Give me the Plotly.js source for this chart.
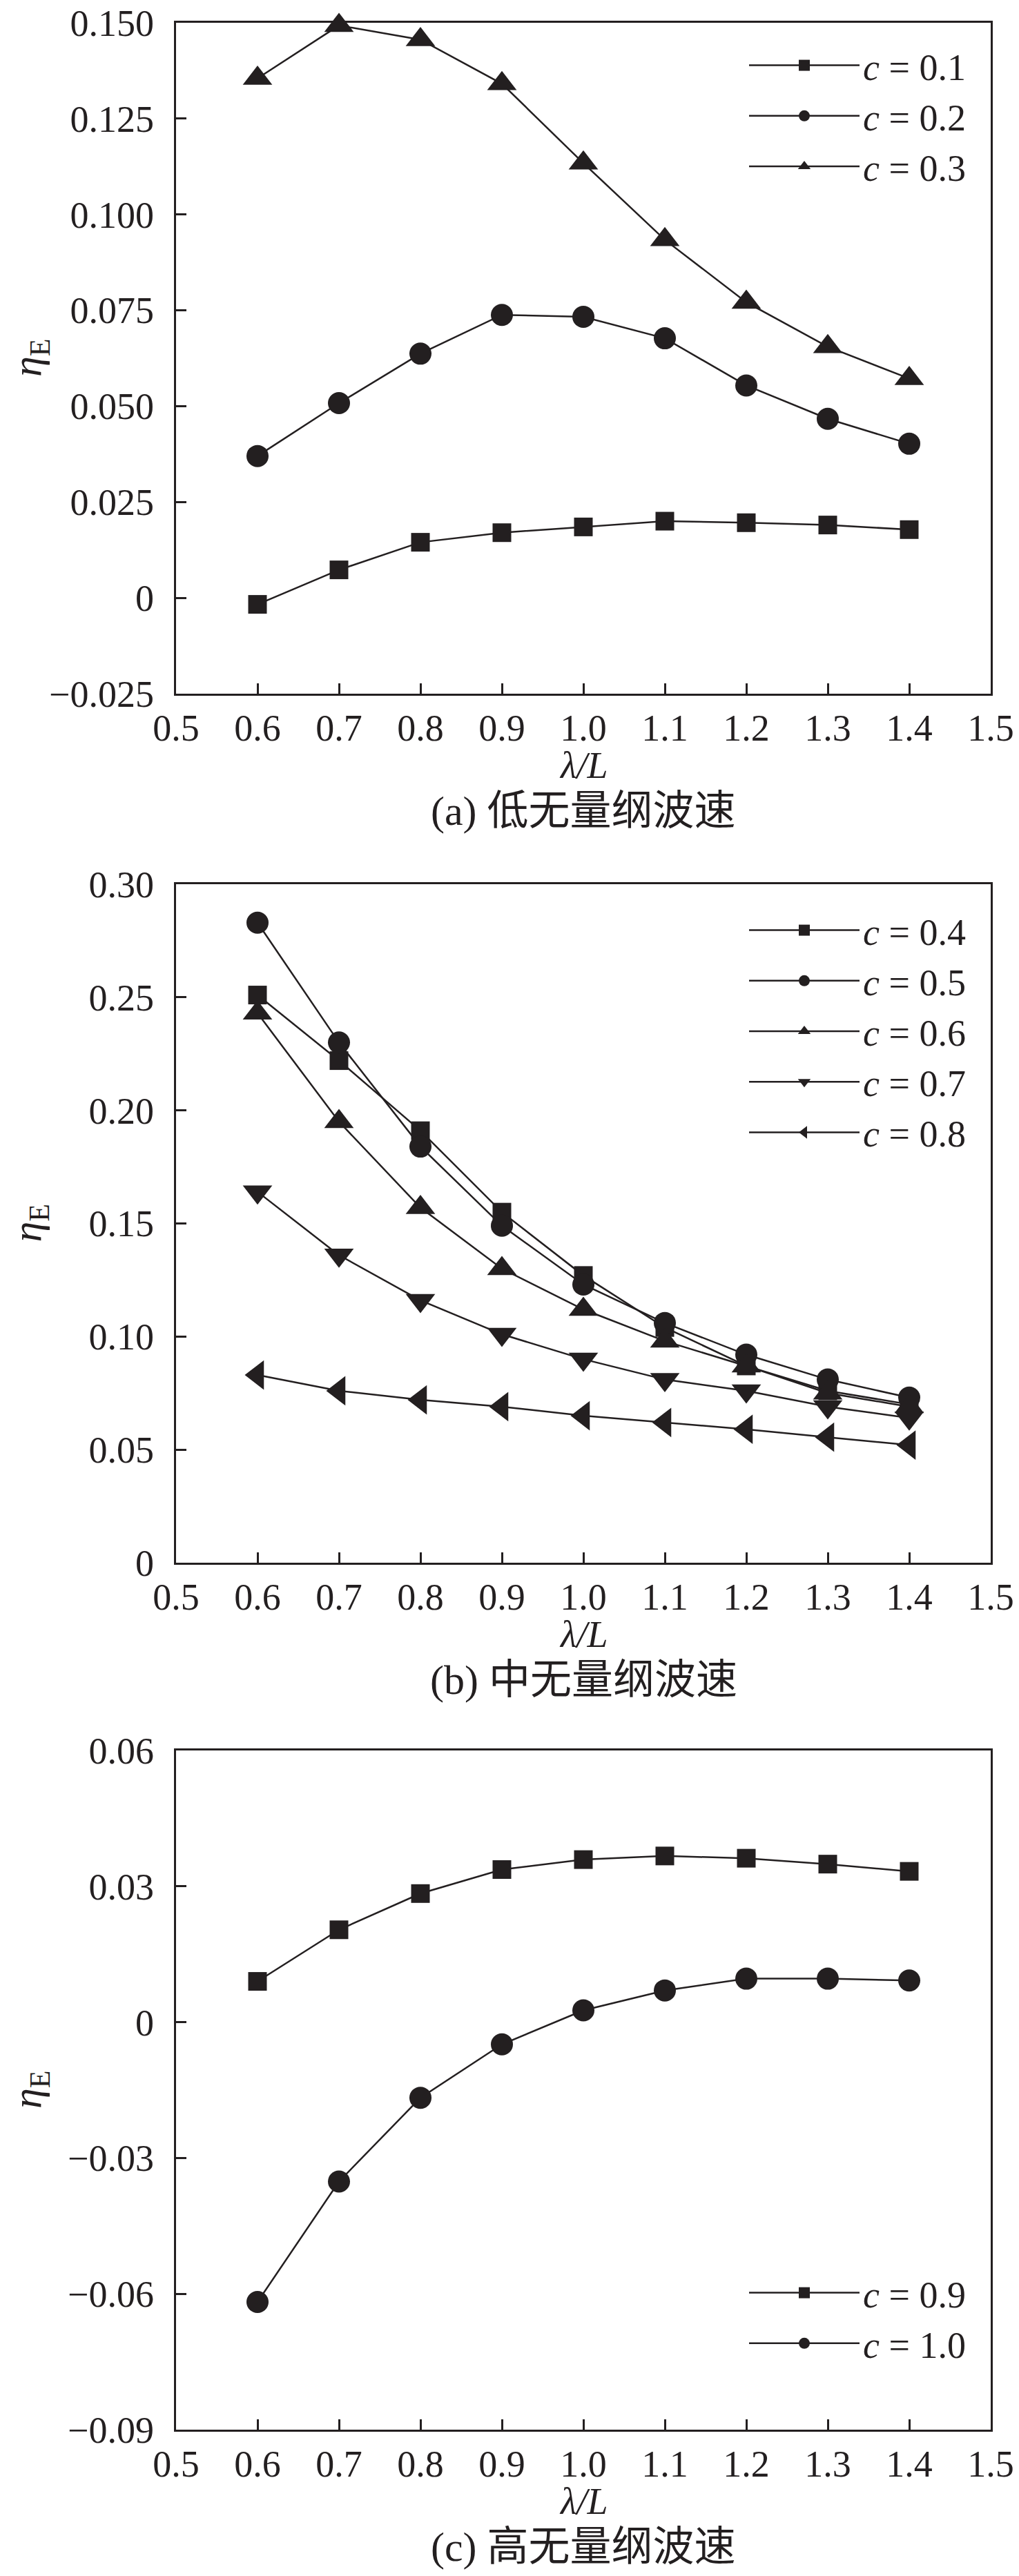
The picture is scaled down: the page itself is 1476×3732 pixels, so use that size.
<!DOCTYPE html>
<html>
<head>
<meta charset="utf-8">
<script src="https://cdn.plot.ly/plotly-3.0.1.min.js"></script>
<style>
  body { margin: 0; background: #fff; }
  #chart { width: 1476px; height: 3732px; }
</style>
</head>
<body>
<div id="chart"></div>
<script>
// x values shared by every series
const lambdaL = [0.6, 0.7, 0.8, 0.9, 1.0, 1.1, 1.2, 1.3, 1.4];

// (a) low wave speed
const etaC01 = [-0.0017, 0.0073, 0.0145, 0.0170, 0.0185, 0.0200, 0.0196, 0.0190, 0.0178];
const etaC02 = [0.0370, 0.0508, 0.0637, 0.0738, 0.0733, 0.0677, 0.0554, 0.0467, 0.0402];
const etaC03 = [0.1355, 0.1493, 0.1456, 0.1341, 0.1134, 0.0934, 0.0771, 0.0655, 0.0572];

// (b) medium wave speed
const etaC04 = [0.251, 0.222, 0.191, 0.155, 0.127, 0.104, 0.087, 0.076, 0.070];
const etaC05 = [0.283, 0.230, 0.184, 0.149, 0.123, 0.106, 0.092, 0.081, 0.073];
const etaC06 = [0.243, 0.195, 0.157, 0.130, 0.112, 0.098, 0.087, 0.075, 0.069];
const etaC07 = [0.164, 0.136, 0.116, 0.101, 0.090, 0.081, 0.076, 0.069, 0.064];
const etaC08 = [0.083, 0.076, 0.072, 0.069, 0.065, 0.062, 0.059, 0.0555, 0.052];

// (c) high wave speed
const etaC09 = [0.0090, 0.0204, 0.0284, 0.0337, 0.0359, 0.0367, 0.0362, 0.0349, 0.0333];
const etaC10 = [-0.0618, -0.0352, -0.0167, -0.0049, 0.0026, 0.0070, 0.0096, 0.0096, 0.0092];

// tick labels
const xTickVals = [0.5, 0.6, 0.7, 0.8, 0.9, 1.0, 1.1, 1.2, 1.3, 1.4, 1.5];
const xTickText = ['0.5', '0.6', '0.7', '0.8', '0.9', '1.0', '1.1', '1.2', '1.3', '1.4', '1.5'];
const yTickValsA = [-0.025, 0, 0.025, 0.05, 0.075, 0.1, 0.125, 0.15];
const yTickTextA = ['\u22120.025', '0', '0.025', '0.050', '0.075', '0.100', '0.125', '0.150'];
const yTickValsB = [0, 0.05, 0.1, 0.15, 0.2, 0.25, 0.3];
const yTickTextB = ['0', '0.05', '0.10', '0.15', '0.20', '0.25', '0.30'];
const yTickValsC = [-0.09, -0.06, -0.03, 0, 0.03, 0.06];
const yTickTextC = ['\u22120.09', '\u22120.06', '\u22120.03', '0', '0.03', '0.06'];

const captions = ['(a) 低无量纲波速', '(b) 中无量纲波速', '(c) 高无量纲波速'];
const xTitle = '<i>λ/L</i>';
const yTitle = '<i>η</i><sub>E</sub>';

const ink = '#231f20';
const serif = '"Liberation Serif", "Times New Roman", "Noto Sans CJK SC", serif';

function series(y, name, symbol, size, xa, ya, legend) {
  return {
    x: lambdaL, y: y, name: name,
    xaxis: xa, yaxis: ya, legend: legend,
    type: 'scatter', mode: 'lines+markers',
    line: { color: ink, width: 2.5 },
    marker: { symbol: symbol, size: size, color: ink, line: { width: 0 } },
    cliponaxis: false
  };
}

var data = [
  series(etaC01, '<i>c</i> = 0.1', 'square', 27, 'x', 'y', 'legend'),
  series(etaC02, '<i>c</i> = 0.2', 'circle', 32, 'x', 'y', 'legend'),
  series(etaC03, '<i>c</i> = 0.3', 'triangle-up', 37, 'x', 'y', 'legend'),
  series(etaC04, '<i>c</i> = 0.4', 'square', 27, 'x2', 'y2', 'legend2'),
  series(etaC05, '<i>c</i> = 0.5', 'circle', 32, 'x2', 'y2', 'legend2'),
  series(etaC06, '<i>c</i> = 0.6', 'triangle-up', 37, 'x2', 'y2', 'legend2'),
  series(etaC07, '<i>c</i> = 0.7', 'triangle-down', 37, 'x2', 'y2', 'legend2'),
  series(etaC08, '<i>c</i> = 0.8', 'triangle-left', 37, 'x2', 'y2', 'legend2'),
  series(etaC09, '<i>c</i> = 0.9', 'square', 27, 'x3', 'y3', 'legend3'),
  series(etaC10, '<i>c</i> = 1.0', 'circle', 32, 'x3', 'y3', 'legend3')
];

var W = 1476, H = 3732;
var xDom = [255 / W, 1435 / W];
// plot boxes in pixels from top: [top, bottom]
var boxes = [[33, 1005], [1281, 2264], [2536, 3520]];
function yDom(b) { return [1 - b[1] / H, 1 - b[0] / H]; }

function xAxis(anchor) {
  return {
    domain: xDom, anchor: anchor, range: [0.5, 1.5],
    tickvals: xTickVals, ticktext: xTickText,
    ticks: 'inside', ticklen: 15, tickwidth: 3, tickcolor: ink,
    showline: true, linewidth: 3.3, linecolor: ink, mirror: true,
    showgrid: false, zeroline: false, automargin: false,
    tickfont: { family: serif, size: 54, color: ink }
  };
}
function yAxis(anchor, box, range, vals, text) {
  return {
    domain: yDom(box), anchor: anchor, range: range,
    tickvals: vals, ticktext: text,
    ticks: 'inside', ticklen: 15, tickwidth: 3, tickcolor: ink,
    showline: true, linewidth: 3.3, linecolor: ink, mirror: true,
    showgrid: false, zeroline: false, automargin: false,
    ticklabelstandoff: 18,
    tickfont: { family: serif, size: 54, color: ink }
  };
}

function legendAt(top) {
  return {
    x: 1080 / W, xanchor: 'left', y: 1 - top / H, yanchor: 'top',
    bgcolor: 'rgba(0,0,0,0)', borderwidth: 0,
    font: { family: serif, size: 54, color: ink },
    itemwidth: 160
  };
}

function note(text, xPx, yPx, size, angle) {
  return {
    text: text, xref: 'paper', yref: 'paper', x: xPx / W, y: 1 - yPx / H,
    xanchor: 'center', yanchor: 'middle', showarrow: false, textangle: angle || 0,
    font: { family: serif, size: size, color: ink }
  };
}

// axis titles and captions sit under / left of each plot box
var annotations = [];
boxes.forEach(function (b, i) {
  annotations.push(note(xTitle, 845, b[1] + 104, 54));
  annotations.push(note(captions[i], 845, b[1] + 170, 60));
  annotations.push(note(yTitle, 43, (b[0] + b[1]) / 2, 60, -90));
});

var layout = {
  width: W, height: H,
  margin: { l: 0, r: 0, t: 0, b: 0 },
  paper_bgcolor: '#fff', plot_bgcolor: '#fff',
  showlegend: true,
  xaxis: xAxis('y'),
  yaxis: yAxis('x', boxes[0], [-0.025, 0.150], yTickValsA, yTickTextA),
  xaxis2: xAxis('y2'),
  yaxis2: yAxis('x2', boxes[1], [0, 0.30], yTickValsB, yTickTextB),
  xaxis3: xAxis('y3'),
  yaxis3: yAxis('x3', boxes[2], [-0.09, 0.06], yTickValsC, yTickTextC),
  legend: legendAt(53),
  legend2: legendAt(1306),
  legend3: legendAt(3280),
  annotations: annotations
};

Plotly.newPlot('chart', data, layout, { displayModeBar: false, staticPlot: true });
</script>
</body>
</html>
